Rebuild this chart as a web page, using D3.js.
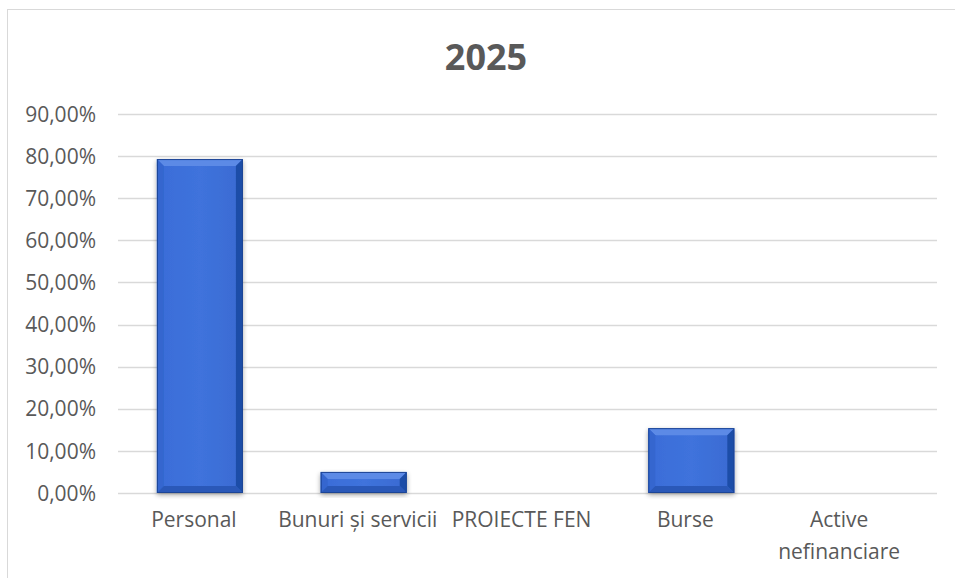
<!DOCTYPE html>
<html>
<head>
<meta charset="utf-8">
<script src="https://cdn.jsdelivr.net/npm/d3@7"></script>
<style>
  body { margin: 0; background: #fff; }
  svg { display: block; }
  .tick text { font-family: "Open Sans", sans-serif; fill: #595959; }
</style>
</head>
<body>
<svg width="955" height="578"></svg>
<script>
// chart data
var categories = ['Personal', 'Bunuri și servicii', 'PROIECTE FEN', 'Burse', 'Active nefinanciare'];
var values = [0.793, 0.050, 0, 0.154, 0];
var yTicks = [0, 0.1, 0.2, 0.3, 0.4, 0.5, 0.6, 0.7, 0.8, 0.9];

var width = 955, height = 578;
var margin = {top: 114, right: 18, bottom: 85, left: 118};

var svg = d3.select('svg');

// outer frame
svg.append('rect')
  .attr('x', 7.5).attr('y', 9.5)
  .attr('width', 1000).attr('height', 1000)
  .attr('fill', 'none')
  .attr('stroke', '#d9d9d9');

svg.append('text')
  .attr('x', 486).attr('y', 70)
  .attr('text-anchor', 'middle')
  .attr('font-family', '"Open Sans", sans-serif')
  .attr('font-weight', 'bold')
  .attr('font-size', 36)
  .attr('fill', '#595959')
  .text('2025');

var x = d3.scaleBand()
  .domain(categories)
  .range([margin.left, width - margin.right])
  .paddingInner(0.475)
  .paddingOuter(0.2375);

var y = d3.scaleLinear()
  .domain([0, 0.9])
  .range([height - margin.bottom, margin.top]);

var fmt = function(d) { return d3.format('.2f')(d * 100).replace('.', ',') + '%'; };

// grid
svg.append('g')
  .selectAll('line')
  .data(yTicks)
  .enter()
  .append('line')
  .attr('x1', margin.left).attr('x2', width - margin.right)
  .attr('y1', d => Math.round(y(d)) + 0.5)
  .attr('y2', d => Math.round(y(d)) + 0.5)
  .attr('stroke', '#d9d9d9')
  .attr('stroke-width', 1.3);

var yAxis = svg.append('g')
  .attr('transform', 'translate(' + (margin.left - 22) + ',0)')
  .call(d3.axisLeft(y).tickValues(yTicks).tickFormat(fmt).tickSize(0).tickPadding(0));
yAxis.select('.domain').remove();
yAxis.selectAll('text').attr('font-size', 21).attr('dy', '0.34em');

var defs = svg.append('defs');
var grad = defs.append('linearGradient')
  .attr('id', 'face').attr('x1', 0).attr('x2', 1).attr('y1', 0).attr('y2', 0);
grad.append('stop').attr('offset', 0).attr('stop-color', '#3a6cd8');
grad.append('stop').attr('offset', 0.5).attr('stop-color', '#3f73dc');
grad.append('stop').attr('offset', 1).attr('stop-color', '#3a6ad2');

var filter = defs.append('filter').attr('id', 'shadow')
  .attr('x', '-20%').attr('y', '-20%').attr('width', '140%').attr('height', '140%');
filter.append('feGaussianBlur').attr('in', 'SourceAlpha').attr('stdDeviation', 2.5);
filter.append('feOffset').attr('dx', 0).attr('dy', 2).attr('result', 'b');
filter.append('feComponentTransfer').append('feFuncA').attr('type', 'linear').attr('slope', 0.35);
var merge = filter.append('feMerge');
merge.append('feMergeNode');
merge.append('feMergeNode').attr('in', 'SourceGraphic');

var bevel = 7;
var bars = svg.append('g')
  .selectAll('g')
  .data(categories.map((c, i) => ({name: c, value: values[i]})).filter(d => d.value > 0))
  .enter()
  .append('g')
  .attr('filter', 'url(#shadow)');

bars.each(function(d) {
  var g = d3.select(this);
  var x0 = x(d.name), x1 = x0 + x.bandwidth();
  var y0 = y(d.value), y1 = y(0);
  var b = Math.min(bevel, (y1 - y0) / 2);
  g.append('rect')
    .attr('x', x0).attr('y', y0)
    .attr('width', x1 - x0).attr('height', y1 - y0)
    .attr('fill', 'url(#face)');
  // top bevel
  g.append('polygon')
    .attr('points', [[x0, y0], [x1, y0], [x1 - b, y0 + b], [x0 + b, y0 + b]].join(' '))
    .attr('fill', '#5b8ae6');
  // left bevel
  g.append('polygon')
    .attr('points', [[x0, y0], [x0 + b, y0 + b], [x0 + b, y1 - b], [x0, y1]].join(' '))
    .attr('fill', '#3466cf');
  // right bevel
  g.append('polygon')
    .attr('points', [[x1, y0], [x1 - b, y0 + b], [x1 - b, y1 - b], [x1, y1]].join(' '))
    .attr('fill', '#1f4ea8');
  // bottom bevel
  g.append('polygon')
    .attr('points', [[x0, y1], [x0 + b, y1 - b], [x1 - b, y1 - b], [x1, y1]].join(' '))
    .attr('fill', '#2a58b8');
  g.append('rect')
    .attr('x', x0 + 0.5).attr('y', y0 + 0.5)
    .attr('width', x1 - x0 - 1).attr('height', y1 - y0 - 1)
    .attr('fill', 'none')
    .attr('stroke', '#1d4596')
    .attr('stroke-width', 1);
});

var xAxis = svg.append('g')
  .attr('transform', 'translate(0,' + (height - margin.bottom) + ')')
  .call(d3.axisBottom(x).tickSize(0).tickPadding(19));
xAxis.select('.domain').remove();
xAxis.selectAll('text')
  .attr('font-size', 21)
  .attr('dx', -6)
  .each(function(d) {
    if (d === 'Active nefinanciare') {
      var t = d3.select(this).text(null).attr('dy', null).attr('dx', null);
      t.append('tspan').attr('x', -16).attr('dy', '0.71em').text('Active');
      t.append('tspan').attr('x', -16).attr('dy', '1.55em').text('nefinanciare');
    }
  });
</script>
</body>
</html>
